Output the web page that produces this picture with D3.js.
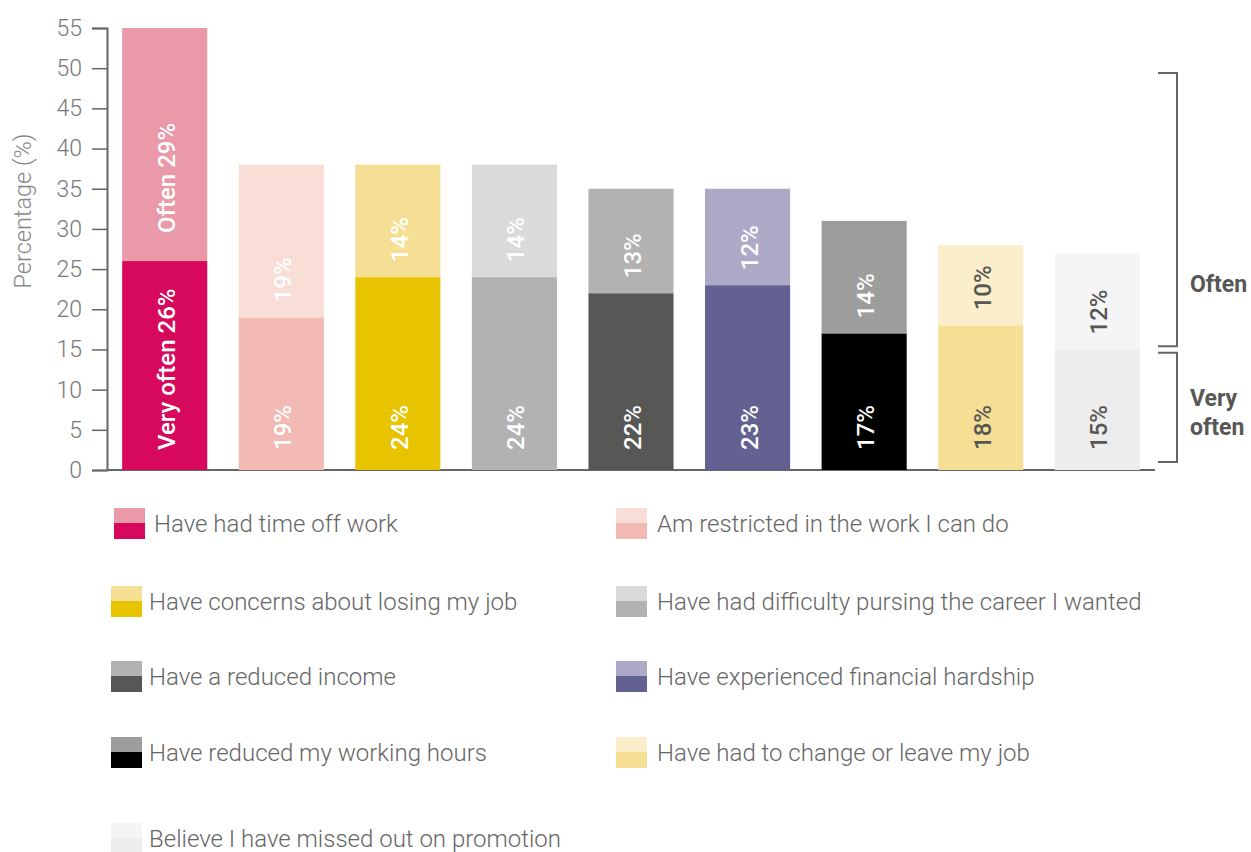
<!DOCTYPE html>
<html>
<head>
<meta charset="utf-8">
<script src="https://cdn.jsdelivr.net/npm/d3@7"></script>
<style>
  body { margin: 0; background: #fff; }
  svg { font-family: Roboto, "Noto Sans", sans-serif; }
</style>
</head>
<body>
<svg width="1251" height="852"></svg>
<script>
// data
const categories = [
  "Have had time off work",
  "Am restricted in the work I can do",
  "Have concerns about losing my job",
  "Have had difficulty pursing the career I wanted",
  "Have a reduced income",
  "Have experienced financial hardship",
  "Have reduced my working hours",
  "Have had to change or leave my job",
  "Believe I have missed out on promotion"
]
const veryOften = [26, 19, 24, 24, 22, 23, 17, 18, 15]
const often = [29, 19, 14, 14, 13, 12, 14, 10, 12]
const yTicks = [0, 5, 10, 15, 20, 25, 30, 35, 40, 45, 50, 55]

const oftenColors = ["#E999A8", "#F9DED8", "#F5DF95", "#DADADA", "#B2B2B2", "#AFA9C8", "#9D9D9C", "#FBEECB", "#F5F5F5"]
const veryColors  = ["#D6095C", "#F3B9B3", "#E8C300", "#B2B2B2", "#575756", "#636192", "#000000", "#F5DF95", "#EDEDED"]
const labelColors = ["#fff", "#fff", "#fff", "#fff", "#fff", "#fff", "#fff", "#575756", "#575756"]

const svg = d3.select("svg")

const x = d3.scaleBand()
  .domain(d3.range(categories.length))
  .range([107, 1155])
  .paddingInner(0.27)
  .paddingOuter(0.13)

const y = d3.scaleLinear()
  .domain([0, 55])
  .range([470, 28])

// y axis
const yAxis = svg.append("g")
  .attr("transform", "translate(107,0)")
  .call(d3.axisLeft(y).tickValues(yTicks).tickSize(15).tickPadding(10))
yAxis.select(".domain").attr("stroke", "#666").attr("stroke-width", 2)
yAxis.selectAll(".tick line").attr("stroke", "#666").attr("stroke-width", 1.5)
yAxis.selectAll(".tick text")
  .attr("fill", "#777")
  .attr("font-size", "23px")
  .attr("font-weight", 300)
  .attr("font-family", "Roboto, sans-serif")

// x baseline
svg.append("line")
  .attr("x1", 107).attr("x2", 1155)
  .attr("y1", y(0)).attr("y2", y(0))
  .attr("stroke", "#666").attr("stroke-width", 2)

svg.append("text")
  .attr("transform", `translate(31,211) rotate(-90)`)
  .attr("text-anchor", "middle")
  .attr("fill", "#888")
  .attr("font-size", "23.5px")
  .attr("font-weight", 300)
  .text("Percentage (%)")

// bars
const bars = svg.append("g").selectAll("g")
  .data(categories)
  .enter().append("g")

bars.append("rect")
  .attr("x", (d, i) => x(i))
  .attr("width", x.bandwidth())
  .attr("y", (d, i) => y(veryOften[i]))
  .attr("height", (d, i) => y(0) - y(veryOften[i]))
  .attr("fill", (d, i) => veryColors[i])

bars.append("rect")
  .attr("x", (d, i) => x(i))
  .attr("width", x.bandwidth())
  .attr("y", (d, i) => y(veryOften[i] + often[i]))
  .attr("height", (d, i) => y(veryOften[i]) - y(veryOften[i] + often[i]))
  .attr("fill", (d, i) => oftenColors[i])

// value labels
bars.append("text")
  .attr("transform", (d, i) => `translate(${x(i) + x.bandwidth() / 2 + 10},${y(0) - 20}) rotate(-90)`)
  .attr("fill", (d, i) => labelColors[i])
  .attr("font-size", "24px")
  .attr("font-weight", 500)
  .text((d, i) => (i === 0 ? "Very often " : "") + veryOften[i] + "%")

bars.append("text")
  .attr("transform", (d, i) => `translate(${x(i) + x.bandwidth() / 2 + 10},${y(veryOften[i]) - (i === 0 ? 28 : 15)}) rotate(-90)`)
  .attr("fill", (d, i) => labelColors[i])
  .attr("font-size", "24px")
  .attr("font-weight", 500)
  .text((d, i) => (i === 0 ? "Often " : "") + often[i] + "%")

// brackets on the right
const br = svg.append("g").attr("stroke", "#666").attr("stroke-width", 2).attr("fill", "none")
br.append("path").attr("d", `M1158,${y(49.4)}H1177V${y(15.4)}H1158`)
br.append("path").attr("d", `M1158,${y(14.6)}H1177V${y(1)}H1158`)

const brText = svg.append("g")
  .attr("fill", "#575756")
  .attr("font-size", "23px")
  .attr("font-weight", 700)
brText.append("text").attr("x", 1190).attr("y", 292).text("Often")
brText.append("text").attr("x", 1190).attr("y", 406).text("Very")
brText.append("text").attr("x", 1190).attr("y", 435).text("often")

// legend
const legendRows = [523, 601, 676, 752, 838]
const legend = svg.append("g").selectAll("g")
  .data(categories)
  .enter().append("g")
  .attr("transform", (d, i) => {
    const col = i % 2, row = Math.floor(i / 2)
    const lx = col === 0 ? (i === 0 ? 114 : 111) : 616
    return `translate(${lx},${legendRows[row]})`
  })

legend.append("rect")
  .attr("x", 0).attr("y", -15)
  .attr("width", 31).attr("height", 16)
  .attr("fill", (d, i) => oftenColors[i])
legend.append("rect")
  .attr("x", 0).attr("y", 0)
  .attr("width", 31).attr("height", 16)
  .attr("fill", (d, i) => veryColors[i])

legend.append("text")
  .attr("x", (d, i) => i === 0 ? 40 : (i % 2 === 1 ? 41 : 38))
  .attr("y", 9)
  .attr("fill", "#666")
  .attr("font-size", "24px")
  .attr("font-weight", 300)
  .text(d => d)
</script>
</body>
</html>
